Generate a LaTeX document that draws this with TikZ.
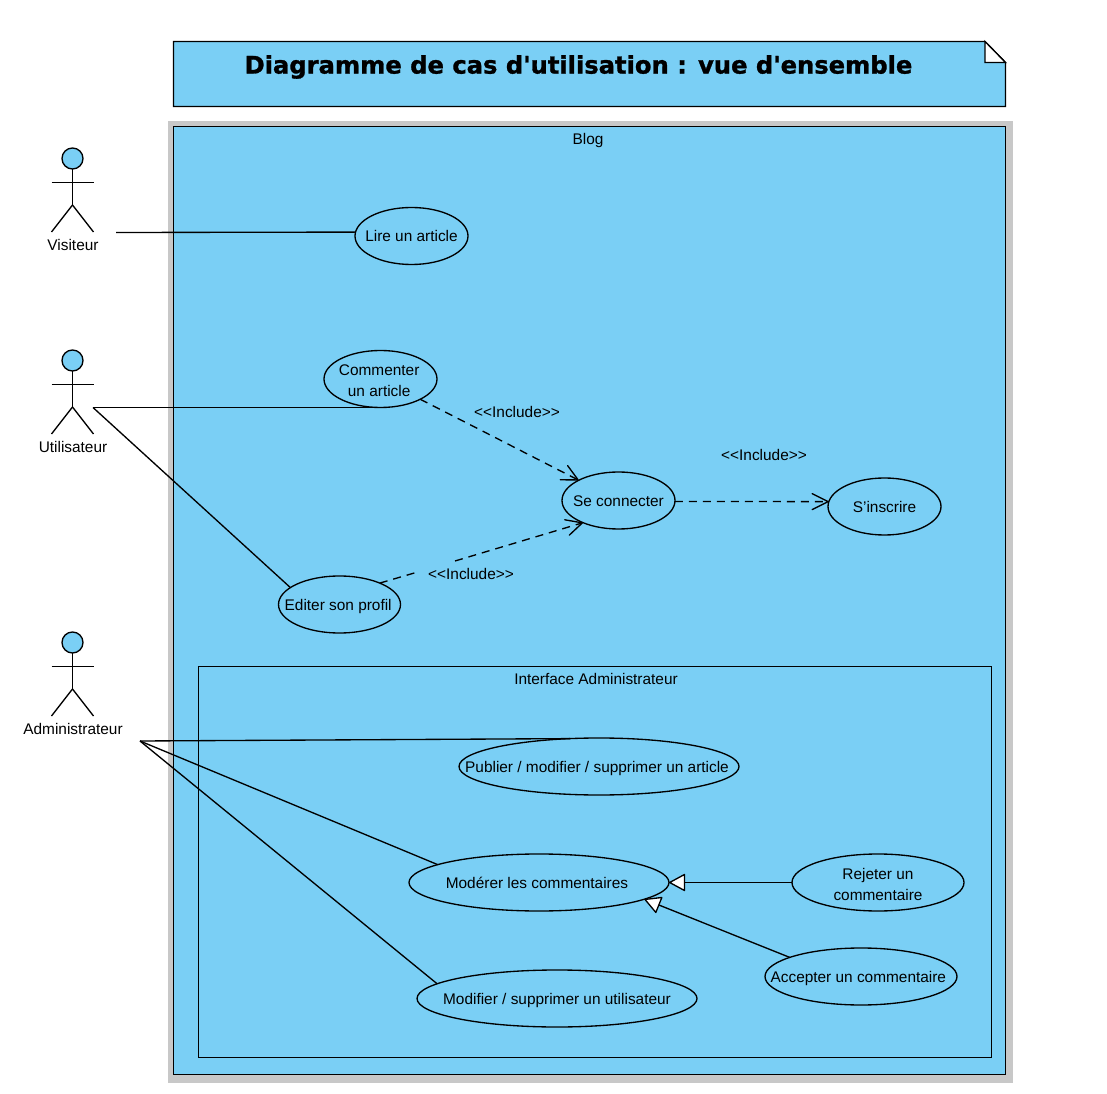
\documentclass[tikz,border=0pt]{standalone}
\usepackage{fontspec}
\setmainfont{Liberation Sans}
\newfontfamily\titlefont[BoldFeatures={FakeBold=1.2}]{DejaVu Sans}
\usetikzlibrary{arrows.meta,shapes.geometric}
\definecolor{vpblue}{HTML}{7ACFF5}
\definecolor{vpgrey}{HTML}{C8C8C8}
\tikzset{
  every node/.style={inner sep=0pt,outer sep=0pt},
  mtxt/.style={font=\fontsize{11.55pt}{15.75pt}\selectfont,align=center,text=black},
  txt/.style={mtxt,text height=10.2pt,text depth=2pt},
  uctxt/.style={txt,yshift=-0.75pt},
  lineblk/.style={draw=black,line width=1pt},
  frame/.style={lineblk,fill=vpblue,rectangle,anchor=north west},
  uc/.style={lineblk,ellipse,minimum height=42.75pt},
  assoc/.style={lineblk},
  incl/.style={lineblk,dash pattern=on 6pt off 4.5pt,-{Straight Barb[length=12pt,width=12pt,round,line width=1pt]}},
  inclp/.style={lineblk,dash pattern=on 6pt off 4.5pt},
  gen/.style={lineblk,-{Triangle[length=12.75pt,width=13.5pt,fill=white,round]}},
  pics/actor/.style={code={
    \node[lineblk,fill=vpblue,circle,minimum size=15.75pt,anchor=north] (-head) at (0,0) {};
    \coordinate (-waist) at (0,57);
    \coordinate (-armL) at (-21,34.5);
    \coordinate (-armR) at (21,34.5);
    \coordinate (-legL) at (-21,84);
    \coordinate (-legR) at (21,84);
    \draw[lineblk] (-head.south) -- (-waist);
    \draw[lineblk] (-armL) -- (-armR);
    \draw[lineblk] (-legL) -- (-waist) -- (-legR);
    \node[txt] (-label) at (0.5,97) {#1};
  }}
}
\begin{document}
\begin{tikzpicture}[x=0.75pt,y=-0.75pt]
\useasboundingbox (0,0) rectangle (1107,1094);
% title note
\coordinate (nA) at (173.5,41.5);
\coordinate (nB) at (985,41.5);
\coordinate (nC) at (1005.5,62.5);
\coordinate (nD) at (1005.5,106.5);
\coordinate (nE) at (173.5,106.5);
\coordinate (nF) at (985,62.5);
\draw[lineblk,fill=vpblue] (nA) -- (nB) -- (nC) -- (nD) -- (nE) -- cycle;
\draw[lineblk,fill=white,line join=miter] (nB) -- (nC) -- (nF) -- cycle;
\node[font=\titlefont\bfseries\fontsize{18.15pt}{22pt}\selectfont] (title) at (578.5,67) {Diagramme de cas d'utilisation : vue d'ensemble};
% system frames
\node[fill=vpgrey,rectangle,anchor=north west,minimum width=633.75pt,minimum height=721.5pt] (shadow) at (168,121) {};
\node[frame,minimum width=624pt,minimum height=711pt] (blog) at (173.5,126.5) {};
\node[txt] (blogt) at (588,139) {Blog};
\node[frame,minimum width=594.75pt,minimum height=293.25pt] (admin) at (198.5,666.5) {};
\node[txt] (admint) at (596,679) {Interface Administrateur};
% actors
\pic (vis) at (72.5,148) {actor=Visiteur};
\pic (uti) at (72.5,350) {actor=Utilisateur};
\pic (adm) at (72.5,632) {actor=Administrateur};
\coordinate (visEnd) at (116,232.5);
\coordinate (utiEnd) at (93,407.5);
\coordinate (admEnd) at (140,741);
% use cases
\node[uc,minimum width=84.75pt,label={[txt]center:Lire un article}] (lire) at (411.5,236) {};
\node[uc,minimum width=84.75pt,label={[mtxt,xshift=-1pt,yshift=-1.2pt]center:Commenter\\un article}] (comm) at (380.5,379) {};
\node[uc,minimum width=84.75pt,label={[uctxt]center:Se connecter}] (sec) at (618.5,500.5) {};
\node[uc,minimum width=84.75pt,label={[uctxt]center:S'inscrire}] (ins) at (884.5,506.5) {};
\node[uc,minimum width=91.5pt,label={[uctxt,xshift=-1pt]center:Editer son profil}] (edit) at (339.5,604.5) {};
\node[uc,minimum width=210pt,label={[uctxt,xshift=-1.5pt]center:Publier / modifier / supprimer un article}] (pub) at (599,766.5) {};
\node[uc,minimum width=195pt,label={[uctxt,xshift=-1.5pt]center:Modérer les commentaires}] (mod) at (539,882.5) {};
\node[uc,minimum width=129pt,label={[mtxt,yshift=-1.5pt]center:Rejeter un\\commentaire}] (rej) at (878,882.5) {};
\node[uc,minimum width=144pt,label={[uctxt,xshift=-2pt]center:Accepter un commentaire}] (acc) at (861,976.5) {};
\node[uc,minimum width=210pt,label={[uctxt]center:Modifier / supprimer un utilisateur}] (modif) at (557,998.5) {};
% associations
\draw[assoc] (visEnd) -- (lire.176.5);
\draw[assoc] (utiEnd) -- (comm.270);
\draw[assoc] (utiEnd) -- (edit.161.6);
\draw[assoc] (admEnd) -- (pub.136.1);
\draw[assoc] (admEnd) -- (mod.170);
\draw[assoc] (admEnd) -- (modif.173.5);
% includes
\coordinate (gapA) at (416,572.5);
\coordinate (gapB) at (455,561);
\draw[incl] (comm.-27.4) -- (sec.153.2);
\draw[inclp] (edit.28) -- (gapA);
\draw[incl] (gapB) -- (sec.212.4);
\draw[incl] (sec.-1.5) -- (ins.175.4);
\node[txt] (l1) at (517,412) {<{}<Include>{}>};
\node[txt] (l2) at (471,574) {<{}<Include>{}>};
\node[txt] (l3) at (764,455) {<{}<Include>{}>};
% generalisations
\draw[gen] (rej.180) -- (mod.0);
\draw[gen] (acc.165.8) -- (mod.-9.6);
\end{tikzpicture}
\end{document}
